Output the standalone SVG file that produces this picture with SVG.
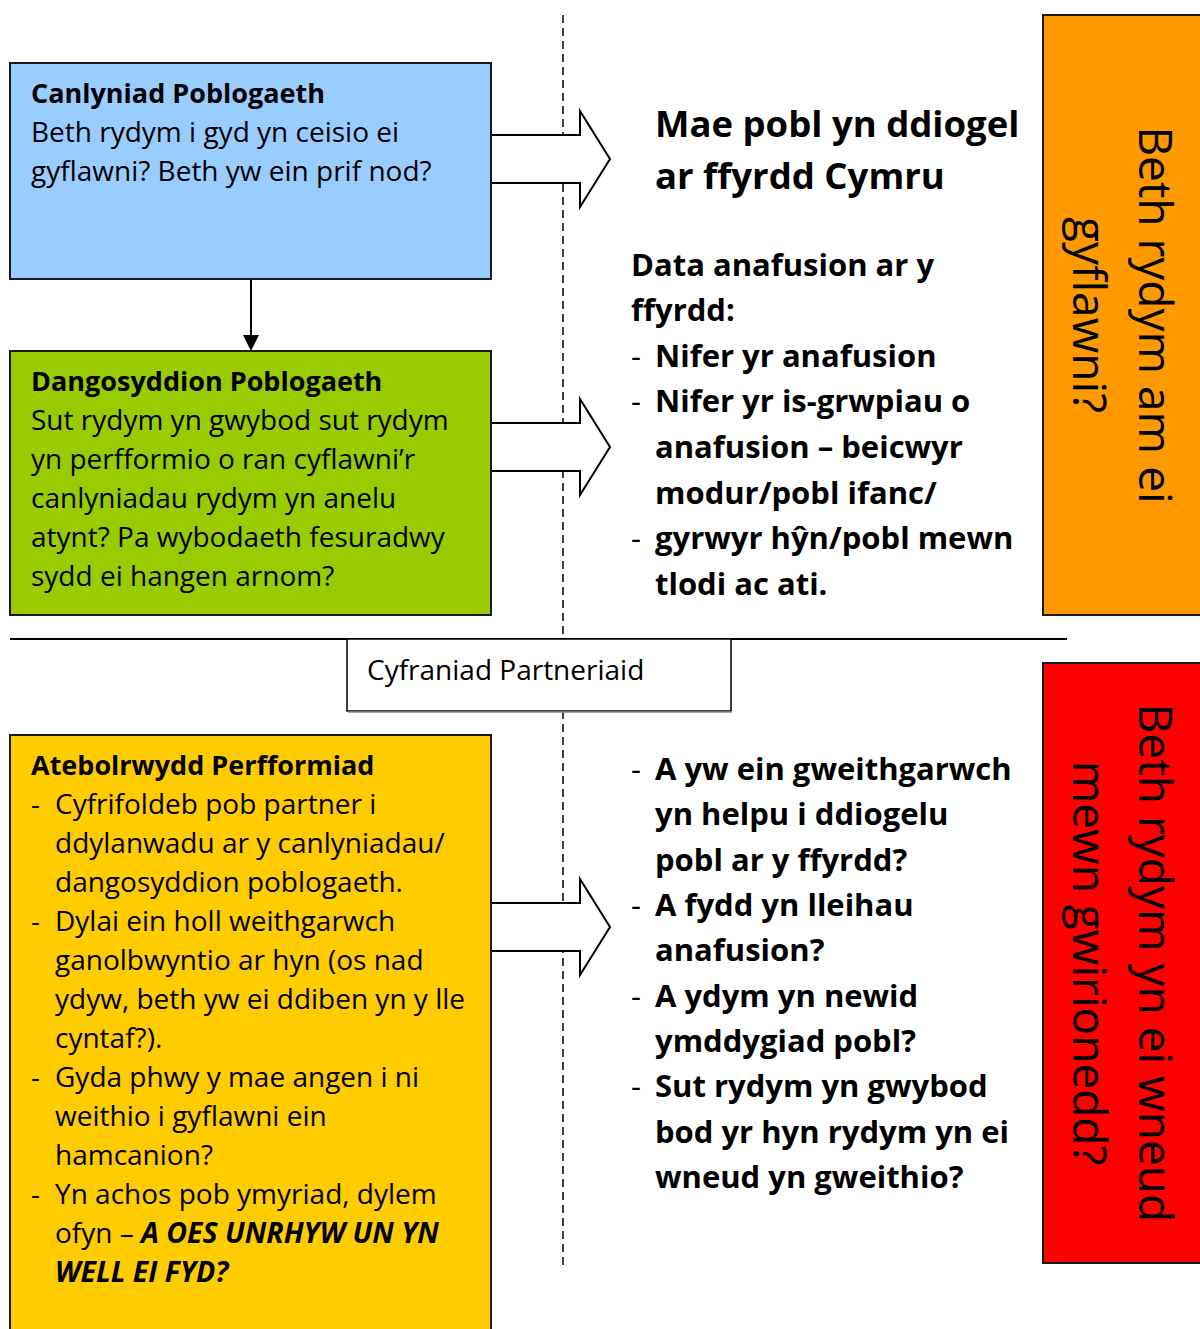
<svg xmlns="http://www.w3.org/2000/svg" width="1200" height="1329" viewBox="0 0 1200 1329">
<style>
text{font-family:"Open Sans","Liberation Sans",sans-serif;fill:#000}
.b{font-size:28px}
.h{font-size:27px;font-weight:bold}
.r{font-size:31px;font-weight:bold}
.d{font-size:31px}
.t{font-size:36.5px;font-weight:bold}
.v{font-size:46px}
.bi{font-size:28.5px;font-weight:bold;font-style:italic}
.box{stroke:#1a1a1a;stroke-width:2}
.arrow{fill:#fff;stroke:#000;stroke-width:2;stroke-linejoin:miter}
.dash{stroke:#000;stroke-width:1.5;stroke-dasharray:8,5;fill:none}
</style>
<rect width="1200" height="1329" fill="#fff"/>
<g id="connectors">
<line class="dash" x1="563" y1="15" x2="563" y2="639"/>
<line class="dash" x1="563" y1="711" x2="563" y2="1265"/>
<line x1="10" y1="639" x2="1067" y2="639" stroke="#000" stroke-width="2"/>
<line x1="251" y1="279" x2="251" y2="337" stroke="#000" stroke-width="2"/>
<polygon points="243,335 259,335 251,351" fill="#000"/>
<polygon class="arrow" points="491,135 580,135 580,111 610,159 580,207 580,183 491,183"/>
<polygon class="arrow" points="491,423 580,423 580,399 610,447 580,495 580,471 491,471"/>
<polygon class="arrow" points="491,903 580,903 580,879 610,927 580,975 580,951 491,951"/>
</g>
<g id="canlyniad">
<rect class="box" x="10" y="63" width="481" height="216" fill="#99CCFF"/>
<text class="h" x="31" y="103">Canlyniad Poblogaeth</text>
<text class="b" x="31" y="142">Beth rydym i gyd yn ceisio ei</text>
<text class="b" x="31" y="181">gyflawni? Beth yw ein prif nod?</text>
</g>
<g id="dangosyddion">
<rect class="box" x="10" y="351" width="481" height="264" fill="#99CC00"/>
<text class="h" x="31" y="391">Dangosyddion Poblogaeth</text>
<text class="b" x="31" y="430">Sut rydym yn gwybod sut rydym</text>
<text class="b" x="31" y="469">yn perfformio o ran cyflawni’r</text>
<text class="b" x="31" y="508">canlyniadau rydym yn anelu</text>
<text class="b" x="31" y="547">atynt? Pa wybodaeth fesuradwy</text>
<text class="b" x="31" y="586">sydd ei hangen arnom?</text>
</g>
<g id="atebolrwydd">
<rect class="box" x="10" y="735" width="481" height="610" fill="#FFCC00"/>
<text class="h" x="31" y="775">Atebolrwydd Perfformiad</text>
<text class="b" x="31" y="814">-</text><text class="b" x="55" y="814">Cyfrifoldeb pob partner i</text>
<text class="b" x="55" y="853">ddylanwadu ar y canlyniadau/</text>
<text class="b" x="55" y="892">dangosyddion poblogaeth.</text>
<text class="b" x="31" y="931">-</text><text class="b" x="55" y="931">Dylai ein holl weithgarwch</text>
<text class="b" x="55" y="970">ganolbwyntio ar hyn (os nad</text>
<text class="b" x="55" y="1009">ydyw, beth yw ei ddiben yn y lle</text>
<text class="b" x="55" y="1048">cyntaf?).</text>
<text class="b" x="31" y="1087">-</text><text class="b" x="55" y="1087">Gyda phwy y mae angen i ni</text>
<text class="b" x="55" y="1126">weithio i gyflawni ein</text>
<text class="b" x="55" y="1165">hamcanion?</text>
<text class="b" x="31" y="1204">-</text><text class="b" x="55" y="1204">Yn achos pob ymyriad, dylem</text>
<text class="b" x="55" y="1243">ofyn – <tspan class="bi">A OES UNRHYW UN YN</tspan></text>
<text class="bi" x="55" y="1282">WELL EI FYD?</text>
</g>
<g id="nod">
<text class="t" x="655" y="137">Mae pobl yn ddiogel</text>
<text class="t" x="655" y="189">ar ffyrdd Cymru</text>
</g>
<g id="data">
<text class="r" x="631" y="276">Data anafusion ar y</text>
<text class="r" x="631" y="321">ffyrdd:</text>
<text class="d" x="631" y="367">-</text><text class="r" x="655" y="367">Nifer yr anafusion</text>
<text class="d" x="631" y="412">-</text><text class="r" x="655" y="412">Nifer yr is-grwpiau o</text>
<text class="r" x="655" y="458">anafusion – beicwyr</text>
<text class="r" x="655" y="504">modur/pobl ifanc/</text>
<text class="d" x="631" y="549">-</text><text class="r" x="655" y="549">gyrwyr hŷn/pobl mewn</text>
<text class="r" x="655" y="595">tlodi ac ati.</text>
</g>
<g id="partneriaid">
<rect x="347" y="639" width="384" height="72" fill="#fff" stroke="#000" stroke-width="1.5"/>
<line x1="348" y1="712" x2="732" y2="712" stroke="#888" stroke-width="1.5"/>
<text class="b" x="367" y="680">Cyfraniad Partneriaid</text>
</g>
<g id="cwestiynau">
<text class="d" x="631" y="780">-</text><text class="r" x="655" y="780">A yw ein gweithgarwch</text>
<text class="r" x="655" y="825">yn helpu i ddiogelu</text>
<text class="r" x="655" y="871">pobl ar y ffyrdd?</text>
<text class="d" x="631" y="916">-</text><text class="r" x="655" y="916">A fydd yn lleihau</text>
<text class="r" x="655" y="961">anafusion?</text>
<text class="d" x="631" y="1007">-</text><text class="r" x="655" y="1007">A ydym yn newid</text>
<text class="r" x="655" y="1052">ymddygiad pobl?</text>
<text class="d" x="631" y="1097">-</text><text class="r" x="655" y="1097">Sut rydym yn gwybod</text>
<text class="r" x="655" y="1143">bod yr hyn rydym yn ei</text>
<text class="r" x="655" y="1188">wneud yn gweithio?</text>
</g>
<g id="orange">
<rect class="box" x="1043" y="15" width="170" height="600" fill="#FF9900"/>
<text class="v" text-anchor="middle" transform="translate(1139,315) rotate(90)">Beth rydym am ei</text>
<text class="v" text-anchor="middle" transform="translate(1073,315) rotate(90)">gyflawni?</text>
</g>
<g id="red">
<rect class="box" x="1043" y="663" width="170" height="600" fill="#FF0000"/>
<text class="v" text-anchor="middle" transform="translate(1139,963) rotate(90)">Beth rydym yn ei wneud</text>
<text class="v" text-anchor="middle" transform="translate(1073,963) rotate(90)">mewn gwirionedd?</text>
</g>
</svg>
